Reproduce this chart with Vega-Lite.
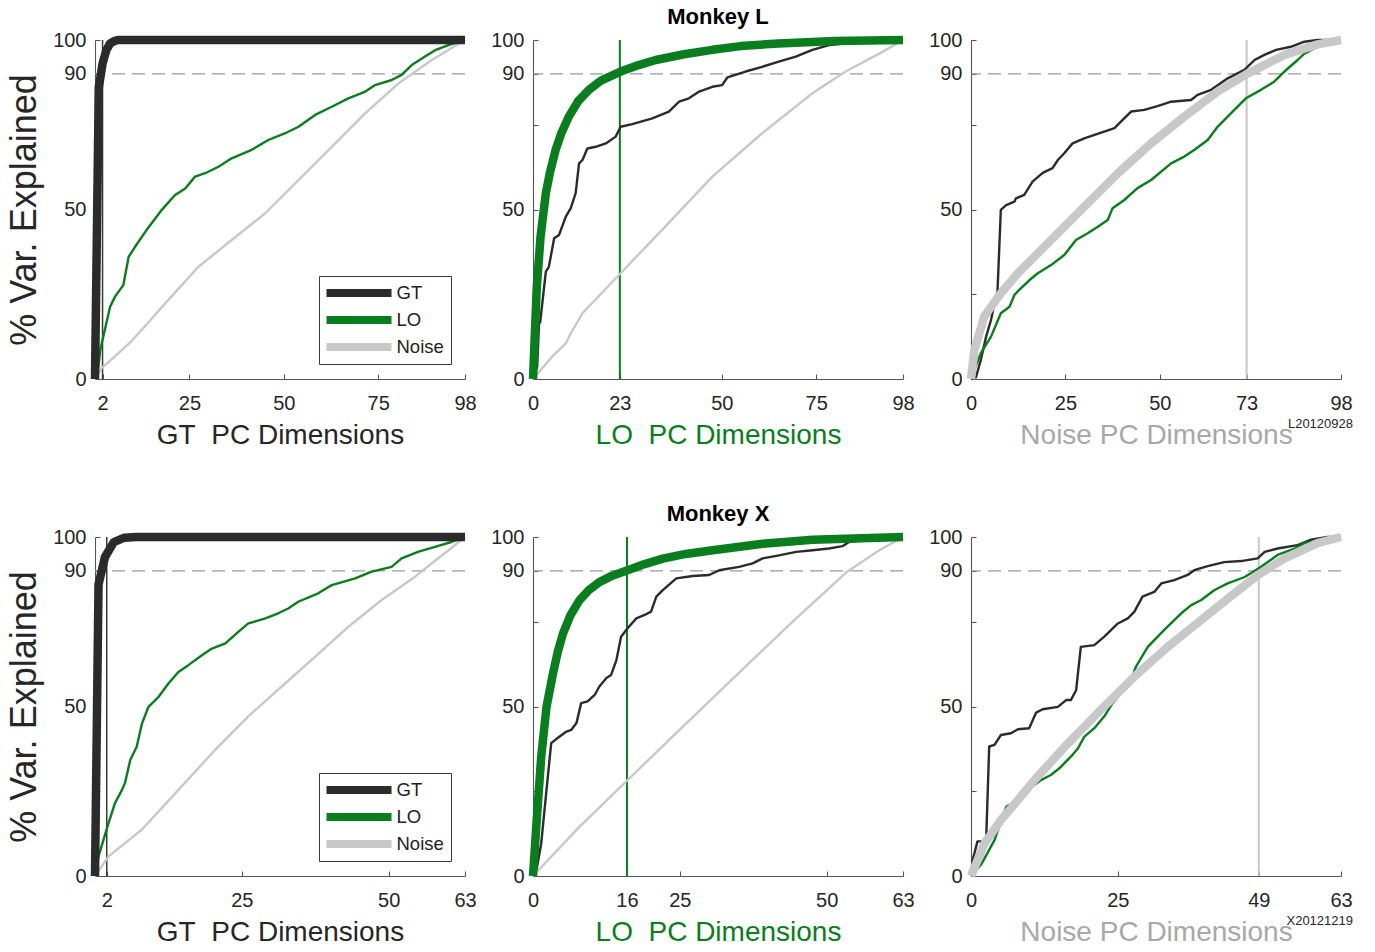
{
"$schema": "https://vega.github.io/schema/vega-lite/v6.json",
"background": "white",
"padding": {"left": 6, "top": 6, "right": 10, "bottom": 5},
"config": {
  "font": "Liberation Sans",
  "view": {"stroke": null},
  "axis": {"grid": false, "domainColor": "#555555", "domainWidth": 1.1, "tickColor": "#555555", "tickWidth": 1.1, "tickSize": -5, "labelColor": "#262626", "labelFontSize": 20, "labelFont": "Liberation Sans", "titleFont": "Liberation Sans", "titleFontWeight": "normal", "labelFlush": false, "labelOverlap": false},
  "axisX": {"labelPadding": 19, "titleFontSize": 28, "titlePadding": 8},
  "axisY": {"labelPadding": 14, "titleFontSize": 36, "titlePadding": 9, "titleColor": "#262626"},
  "line": {"strokeJoin": "round", "strokeCap": "butt"},
  "title": {"font": "Liberation Sans", "fontSize": 22, "fontWeight": "bold", "color": "#000000", "offset": 1}
},
"datasets": {
  "LGT": [
    {"s":"GT","x":0,"y":0},{"s":"GT","x":1,"y":86},{"s":"GT","x":2,"y":93},{"s":"GT","x":3,"y":97},{"s":"GT","x":4,"y":99},{"s":"GT","x":5,"y":99.6},{"s":"GT","x":6,"y":100},{"s":"GT","x":98,"y":100},
    {"s":"LO","x":0,"y":0},{"s":"LO","x":0.9,"y":3.6},{"s":"LO","x":1.4,"y":8.6},{"s":"LO","x":4,"y":21.3},{"s":"LO","x":5.3,"y":24.3},{"s":"LO","x":7.5,"y":27.7},{"s":"LO","x":8.9,"y":36},{"s":"LO","x":10.6,"y":39},{"s":"LO","x":13.7,"y":44},{"s":"LO","x":17.7,"y":49.9},{"s":"LO","x":21.2,"y":54.3},{"s":"LO","x":23.9,"y":56.2},{"s":"LO","x":26.5,"y":59.7},{"s":"LO","x":29.2,"y":60.7},{"s":"LO","x":32.7,"y":62.6},{"s":"LO","x":36.2,"y":65.1},{"s":"LO","x":41.5,"y":67.6},{"s":"LO","x":45.9,"y":70.5},{"s":"LO","x":50.4,"y":72.5},{"s":"LO","x":53.9,"y":74.4},{"s":"LO","x":58.3,"y":77.9},{"s":"LO","x":62.7,"y":80.3},{"s":"LO","x":67.1,"y":82.8},{"s":"LO","x":71.6,"y":84.8},{"s":"LO","x":74.2,"y":86.7},{"s":"LO","x":78.6,"y":88.2},{"s":"LO","x":81.2,"y":89.7},{"s":"LO","x":83.9,"y":92.6},{"s":"LO","x":87.4,"y":95.1},{"s":"LO","x":90.1,"y":97},{"s":"LO","x":93.6,"y":98.5},{"s":"LO","x":98,"y":100},
    {"s":"Noise","x":0,"y":0},{"s":"Noise","x":1.8,"y":3.3},{"s":"Noise","x":5,"y":6.4},{"s":"Noise","x":9.7,"y":11.2},{"s":"Noise","x":14,"y":16.5},{"s":"Noise","x":18.6,"y":22.3},{"s":"Noise","x":27.4,"y":33.1},{"s":"Noise","x":36.2,"y":41},{"s":"Noise","x":45.1,"y":48.9},{"s":"Noise","x":53.9,"y":58.7},{"s":"Noise","x":62.7,"y":68.5},{"s":"Noise","x":71.6,"y":78.4},{"s":"Noise","x":80.4,"y":87.2},{"s":"Noise","x":89.2,"y":94.1},{"s":"Noise","x":98,"y":100}
  ],
  "LLO": [
    {"s":"LO","x":0,"y":0},{"s":"LO","x":1,"y":27},{"s":"LO","x":2,"y":42},{"s":"LO","x":3.4,"y":54.8},{"s":"LO","x":4.5,"y":61},{"s":"LO","x":6,"y":67.6},{"s":"LO","x":7.5,"y":72.5},{"s":"LO","x":9.5,"y":77.4},{"s":"LO","x":12,"y":82},{"s":"LO","x":14.8,"y":85.3},{"s":"LO","x":18,"y":88},{"s":"LO","x":23.2,"y":90.7},{"s":"LO","x":28,"y":92.6},{"s":"LO","x":32.5,"y":94.1},{"s":"LO","x":40,"y":95.8},{"s":"LO","x":47.5,"y":97.1},{"s":"LO","x":55,"y":98.2},{"s":"LO","x":65,"y":99},{"s":"LO","x":80,"y":99.7},{"s":"LO","x":98,"y":100},
    {"s":"GT","x":0,"y":0},{"s":"GT","x":1.1,"y":3.6},{"s":"GT","x":1.6,"y":16.4},{"s":"GT","x":1.9,"y":16.7},{"s":"GT","x":3.4,"y":31.7},{"s":"GT","x":4.2,"y":33.1},{"s":"GT","x":5.6,"y":41.5},{"s":"GT","x":6.9,"y":42.5},{"s":"GT","x":8.7,"y":47.9},{"s":"GT","x":10,"y":50.4},{"s":"GT","x":11.3,"y":54.8},{"s":"GT","x":12.2,"y":63.6},{"s":"GT","x":13.1,"y":64.6},{"s":"GT","x":14.4,"y":68},{"s":"GT","x":16.6,"y":68.5},{"s":"GT","x":19.3,"y":69.5},{"s":"GT","x":21.9,"y":71.5},{"s":"GT","x":23.2,"y":74.4},{"s":"GT","x":26.3,"y":75.2},{"s":"GT","x":31.6,"y":76.9},{"s":"GT","x":36,"y":78.9},{"s":"GT","x":38.7,"y":81.8},{"s":"GT","x":41.3,"y":82.8},{"s":"GT","x":44,"y":84.8},{"s":"GT","x":47.5,"y":86.2},{"s":"GT","x":50.1,"y":86.7},{"s":"GT","x":51.5,"y":89},{"s":"GT","x":56.3,"y":90.7},{"s":"GT","x":60.7,"y":92.1},{"s":"GT","x":65.1,"y":93.6},{"s":"GT","x":69.6,"y":95.1},{"s":"GT","x":74,"y":97.1},{"s":"GT","x":78.4,"y":98.5},{"s":"GT","x":87.2,"y":99.5},{"s":"GT","x":98,"y":100},
    {"s":"Noise","x":0,"y":0},{"s":"Noise","x":5,"y":6.5},{"s":"Noise","x":8.7,"y":10.5},{"s":"Noise","x":10,"y":13.5},{"s":"Noise","x":13.1,"y":19.4},{"s":"Noise","x":23.2,"y":31.2},{"s":"Noise","x":34.2,"y":44},{"s":"Noise","x":47.5,"y":59.7},{"s":"Noise","x":60.7,"y":72.5},{"s":"Noise","x":74,"y":84.3},{"s":"Noise","x":82.8,"y":90.7},{"s":"Noise","x":91.6,"y":95.9},{"s":"Noise","x":98,"y":100}
  ],
  "LNO": [
    {"s":"Noise","x":0,"y":0},{"s":"Noise","x":0.9,"y":8.6},{"s":"Noise","x":3.5,"y":18.4},{"s":"Noise","x":7.9,"y":25.3},{"s":"Noise","x":12.4,"y":31.2},{"s":"Noise","x":21.2,"y":41},{"s":"Noise","x":30,"y":50.8},{"s":"Noise","x":38.9,"y":60.7},{"s":"Noise","x":47.7,"y":69.5},{"s":"Noise","x":56.5,"y":77.4},{"s":"Noise","x":65.3,"y":84.8},{"s":"Noise","x":73.1,"y":90},{"s":"Noise","x":83,"y":95.6},{"s":"Noise","x":91.8,"y":98.7},{"s":"Noise","x":98,"y":100},
    {"s":"GT","x":0,"y":0},{"s":"GT","x":1.3,"y":0.5},{"s":"GT","x":2.6,"y":5.6},{"s":"GT","x":4,"y":12.5},{"s":"GT","x":5.3,"y":17.4},{"s":"GT","x":6.6,"y":24.3},{"s":"GT","x":7,"y":25.3},{"s":"GT","x":7.9,"y":49.9},{"s":"GT","x":9.3,"y":51.3},{"s":"GT","x":11.5,"y":52.3},{"s":"GT","x":11.9,"y":53.3},{"s":"GT","x":14.1,"y":54.3},{"s":"GT","x":16.3,"y":58.2},{"s":"GT","x":19,"y":60.8},{"s":"GT","x":21.6,"y":62.2},{"s":"GT","x":23,"y":64.6},{"s":"GT","x":24.7,"y":66.6},{"s":"GT","x":26.9,"y":69.5},{"s":"GT","x":30,"y":71},{"s":"GT","x":32.7,"y":72},{"s":"GT","x":35.3,"y":73},{"s":"GT","x":38,"y":74},{"s":"GT","x":39.7,"y":75.9},{"s":"GT","x":42.4,"y":78.9},{"s":"GT","x":45.9,"y":79.4},{"s":"GT","x":49.4,"y":80.5},{"s":"GT","x":53,"y":81.8},{"s":"GT","x":58.3,"y":82.3},{"s":"GT","x":60,"y":83.8},{"s":"GT","x":63.6,"y":85.3},{"s":"GT","x":68,"y":88.7},{"s":"GT","x":72.4,"y":91.2},{"s":"GT","x":75.1,"y":94.1},{"s":"GT","x":77.7,"y":95.6},{"s":"GT","x":80.8,"y":97.1},{"s":"GT","x":84.7,"y":98},{"s":"GT","x":88.3,"y":99.5},{"s":"GT","x":91.8,"y":100},{"s":"GT","x":98,"y":100},
    {"s":"LO","x":0,"y":0},{"s":"LO","x":1,"y":3},{"s":"LO","x":2.6,"y":7.6},{"s":"LO","x":5.3,"y":12.5},{"s":"LO","x":7.9,"y":19.4},{"s":"LO","x":10.2,"y":21.3},{"s":"LO","x":11.5,"y":24.8},{"s":"LO","x":12.7,"y":26.2},{"s":"LO","x":15.5,"y":29.2},{"s":"LO","x":17.7,"y":31.2},{"s":"LO","x":21.2,"y":33.6},{"s":"LO","x":24.7,"y":36.6},{"s":"LO","x":27.8,"y":41},{"s":"LO","x":30.9,"y":43},{"s":"LO","x":33.6,"y":44.9},{"s":"LO","x":36.2,"y":46.9},{"s":"LO","x":37.5,"y":50.4},{"s":"LO","x":40.6,"y":52.8},{"s":"LO","x":44.1,"y":56.3},{"s":"LO","x":47.7,"y":58.7},{"s":"LO","x":53,"y":63.6},{"s":"LO","x":56.5,"y":65.6},{"s":"LO","x":59.2,"y":67.6},{"s":"LO","x":62.7,"y":70.5},{"s":"LO","x":65.3,"y":74.4},{"s":"LO","x":68.9,"y":78.4},{"s":"LO","x":72.8,"y":82.8},{"s":"LO","x":76.8,"y":85.3},{"s":"LO","x":80.3,"y":87.7},{"s":"LO","x":83,"y":90.7},{"s":"LO","x":86.5,"y":94.1},{"s":"LO","x":88.3,"y":96},{"s":"LO","x":91.8,"y":98},{"s":"LO","x":98,"y":100}
  ],
  "XGT": [
    {"s":"GT","x":0,"y":0},{"s":"GT","x":0.6,"y":86},{"s":"GT","x":1.7,"y":94.1},{"s":"GT","x":3.2,"y":98.5},{"s":"GT","x":5,"y":99.8},{"s":"GT","x":7,"y":100},{"s":"GT","x":63,"y":100},
    {"s":"LO","x":0,"y":0},{"s":"LO","x":0.6,"y":5.8},{"s":"LO","x":2.3,"y":15.6},{"s":"LO","x":3.4,"y":21.5},{"s":"LO","x":4.6,"y":25.4},{"s":"LO","x":5.1,"y":27.4},{"s":"LO","x":6,"y":34.2},{"s":"LO","x":7.1,"y":38.1},{"s":"LO","x":8,"y":45},{"s":"LO","x":9.1,"y":49.9},{"s":"LO","x":10.8,"y":52.8},{"s":"LO","x":12.5,"y":56.8},{"s":"LO","x":14.2,"y":60.2},{"s":"LO","x":15.9,"y":62.2},{"s":"LO","x":18.2,"y":65.1},{"s":"LO","x":19.9,"y":67.1},{"s":"LO","x":22.2,"y":68.6},{"s":"LO","x":24.4,"y":72},{"s":"LO","x":26.1,"y":74.5},{"s":"LO","x":29,"y":76},{"s":"LO","x":31.2,"y":77.5},{"s":"LO","x":32.9,"y":78.9},{"s":"LO","x":34.6,"y":80.9},{"s":"LO","x":38,"y":83.4},{"s":"LO","x":40.3,"y":85.8},{"s":"LO","x":44.3,"y":87.8},{"s":"LO","x":47.1,"y":89.8},{"s":"LO","x":50.5,"y":91.2},{"s":"LO","x":52.2,"y":93.7},{"s":"LO","x":55.1,"y":95.7},{"s":"LO","x":57.9,"y":97.1},{"s":"LO","x":60.8,"y":98.6},{"s":"LO","x":63,"y":100},
    {"s":"Noise","x":0,"y":0},{"s":"Noise","x":2.3,"y":5.8},{"s":"Noise","x":8,"y":13.7},{"s":"Noise","x":14.8,"y":26.5},{"s":"Noise","x":20.5,"y":37.3},{"s":"Noise","x":26.1,"y":47.1},{"s":"Noise","x":31.8,"y":55.9},{"s":"Noise","x":37.5,"y":64.7},{"s":"Noise","x":43.2,"y":73.6},{"s":"Noise","x":48.8,"y":81.4},{"s":"Noise","x":54.5,"y":88.3},{"s":"Noise","x":57.3,"y":92.2},{"s":"Noise","x":60.2,"y":96.1},{"s":"Noise","x":63,"y":100}
  ],
  "XLO": [
    {"s":"LO","x":0,"y":0},{"s":"LO","x":0.6,"y":15.6},{"s":"LO","x":1.4,"y":35.2},{"s":"LO","x":2.3,"y":49.9},{"s":"LO","x":3.4,"y":59.7},{"s":"LO","x":4.2,"y":66},{"s":"LO","x":5.1,"y":71.5},{"s":"LO","x":6.4,"y":77},{"s":"LO","x":7.9,"y":81.3},{"s":"LO","x":9.5,"y":84.3},{"s":"LO","x":11.3,"y":86.7},{"s":"LO","x":13.5,"y":88.6},{"s":"LO","x":16.1,"y":90.2},{"s":"LO","x":19,"y":92},{"s":"LO","x":22.1,"y":93.6},{"s":"LO","x":26,"y":95},{"s":"LO","x":30.6,"y":96.1},{"s":"LO","x":39.1,"y":98},{"s":"LO","x":47.6,"y":99.2},{"s":"LO","x":63,"y":100},
    {"s":"GT","x":0,"y":0},{"s":"GT","x":0.6,"y":1.8},{"s":"GT","x":1.4,"y":9.6},{"s":"GT","x":2.3,"y":25.4},{"s":"GT","x":3.1,"y":39.2},{"s":"GT","x":4.2,"y":40.7},{"s":"GT","x":5.7,"y":42.6},{"s":"GT","x":6.5,"y":43.1},{"s":"GT","x":7.4,"y":45.1},{"s":"GT","x":8.2,"y":51},{"s":"GT","x":9.3,"y":51.5},{"s":"GT","x":10.5,"y":53.4},{"s":"GT","x":11.3,"y":55.9},{"s":"GT","x":12.5,"y":58.4},{"s":"GT","x":13.3,"y":59.3},{"s":"GT","x":14.2,"y":63.7},{"s":"GT","x":15,"y":70.6},{"s":"GT","x":16.1,"y":73.1},{"s":"GT","x":17.6,"y":76},{"s":"GT","x":19,"y":77},{"s":"GT","x":20.1,"y":78},{"s":"GT","x":21,"y":82.4},{"s":"GT","x":22.1,"y":84.3},{"s":"GT","x":24.4,"y":87.8},{"s":"GT","x":27.2,"y":88.5},{"s":"GT","x":30,"y":88.8},{"s":"GT","x":31.7,"y":90.2},{"s":"GT","x":35.1,"y":91.2},{"s":"GT","x":37.4,"y":92.2},{"s":"GT","x":39.1,"y":93.7},{"s":"GT","x":41.9,"y":94.6},{"s":"GT","x":44.8,"y":95.6},{"s":"GT","x":47.6,"y":96.1},{"s":"GT","x":50.4,"y":96.6},{"s":"GT","x":52.7,"y":97.3},{"s":"GT","x":53.8,"y":98.5},{"s":"GT","x":57.8,"y":99.5},{"s":"GT","x":63,"y":100},
    {"s":"Noise","x":0,"y":0},{"s":"Noise","x":7.9,"y":14.5},{"s":"Noise","x":16.1,"y":28.3},{"s":"Noise","x":24.9,"y":43},{"s":"Noise","x":36.3,"y":62},{"s":"Noise","x":44.8,"y":76},{"s":"Noise","x":53.3,"y":89.5},{"s":"Noise","x":58.9,"y":96},{"s":"Noise","x":63,"y":100}
  ],
  "XNO": [
    {"s":"Noise","x":0,"y":0},{"s":"Noise","x":2.3,"y":9.6},{"s":"Noise","x":5.1,"y":16.5},{"s":"Noise","x":8,"y":22.4},{"s":"Noise","x":10.8,"y":28.3},{"s":"Noise","x":16.5,"y":39.1},{"s":"Noise","x":22.1,"y":49},{"s":"Noise","x":27.8,"y":58.8},{"s":"Noise","x":33.5,"y":67.6},{"s":"Noise","x":39.2,"y":75.5},{"s":"Noise","x":44.8,"y":83.3},{"s":"Noise","x":49,"y":89},{"s":"Noise","x":53.4,"y":93.7},{"s":"Noise","x":59,"y":98.2},{"s":"Noise","x":63,"y":100},
    {"s":"GT","x":0,"y":0},{"s":"GT","x":0.3,"y":4.8},{"s":"GT","x":1.1,"y":10.2},{"s":"GT","x":2,"y":10.2},{"s":"GT","x":2.6,"y":11.7},{"s":"GT","x":3.1,"y":38.2},{"s":"GT","x":4,"y":38.7},{"s":"GT","x":5.1,"y":41.6},{"s":"GT","x":6.8,"y":42.1},{"s":"GT","x":8,"y":43.3},{"s":"GT","x":9.9,"y":43.6},{"s":"GT","x":11.1,"y":48.2},{"s":"GT","x":12.2,"y":49.2},{"s":"GT","x":14.8,"y":49.9},{"s":"GT","x":16.2,"y":51.9},{"s":"GT","x":17,"y":51.9},{"s":"GT","x":17.9,"y":54.8},{"s":"GT","x":18.7,"y":67.6},{"s":"GT","x":21,"y":68.1},{"s":"GT","x":22.7,"y":70.6},{"s":"GT","x":25,"y":74.5},{"s":"GT","x":26.7,"y":76},{"s":"GT","x":27.8,"y":77.9},{"s":"GT","x":29.2,"y":82.4},{"s":"GT","x":31.2,"y":83.8},{"s":"GT","x":32.4,"y":86.3},{"s":"GT","x":34.6,"y":87.3},{"s":"GT","x":36.9,"y":88.8},{"s":"GT","x":38,"y":90.2},{"s":"GT","x":40.3,"y":91.4},{"s":"GT","x":43.1,"y":92.6},{"s":"GT","x":46,"y":92.9},{"s":"GT","x":48.8,"y":93.7},{"s":"GT","x":50,"y":95.6},{"s":"GT","x":52.2,"y":96.6},{"s":"GT","x":55.6,"y":97.6},{"s":"GT","x":57.9,"y":99.2},{"s":"GT","x":60.7,"y":100},{"s":"GT","x":63,"y":100},
    {"s":"LO","x":0,"y":0},{"s":"LO","x":1.7,"y":3.3},{"s":"LO","x":4,"y":10.6},{"s":"LO","x":6,"y":20.4},{"s":"LO","x":7.4,"y":21.8},{"s":"LO","x":9.7,"y":25.4},{"s":"LO","x":11.9,"y":28.3},{"s":"LO","x":13.6,"y":29.8},{"s":"LO","x":15,"y":31.7},{"s":"LO","x":17,"y":35.2},{"s":"LO","x":18.2,"y":37.6},{"s":"LO","x":19.3,"y":41.1},{"s":"LO","x":21,"y":43.6},{"s":"LO","x":22.7,"y":47.1},{"s":"LO","x":24.1,"y":51},{"s":"LO","x":25.5,"y":53.9},{"s":"LO","x":27,"y":56.9},{"s":"LO","x":28.1,"y":61.8},{"s":"LO","x":30.1,"y":67.6},{"s":"LO","x":32.9,"y":72.6},{"s":"LO","x":35.8,"y":77.5},{"s":"LO","x":37.5,"y":79.9},{"s":"LO","x":39.2,"y":81.4},{"s":"LO","x":41.4,"y":84.3},{"s":"LO","x":43.7,"y":86.3},{"s":"LO","x":46.6,"y":88.2},{"s":"LO","x":49.4,"y":91.2},{"s":"LO","x":52.2,"y":94.7},{"s":"LO","x":55.1,"y":96.6},{"s":"LO","x":56.8,"y":98.2},{"s":"LO","x":60.7,"y":99.5},{"s":"LO","x":63,"y":100}
  ]
},
"columns": 3,
"spacing": {"row": 158, "column": 68},
"bounds": "flush",
"resolve": {"scale": {"color": "independent", "x": "independent", "y": "independent"}, "legend": {"color": "independent"}},
"concat": [
  {"width": 370, "height": 339,
   "layer": [
    {"data": {"values": [{}]}, "mark": {"type": "rule", "color": "#9a9a9a", "strokeWidth": 1.3, "strokeDash": [13, 7]}, "encoding": {"y": {"datum": 90, "type": "quantitative"}}},
    {"data": {"values": [{}]}, "mark": {"type": "rule", "color": "#3a3a3a", "strokeWidth": 1.5}, "encoding": {"x": {"datum": 2, "type": "quantitative"}}},
    {"data": {"name": "LGT"}, "transform": [{"filter": "datum.s != 'GT'"}], "mark": {"type": "line", "strokeWidth": 2.4},
     "encoding": {
      "x": {"field": "x", "type": "quantitative", "scale": {"domain": [0, 98], "nice": false, "zero": false}, "axis": {"values": [2, 25, 50, 75, 98], "title": "GT\u00a0 PC Dimensions", "titleColor": "#262626"}},
      "y": {"field": "y", "type": "quantitative", "scale": {"domain": [0, 100], "nice": false}, "axis": {"values": [0, 25, 50, 75, 90, 100], "labelExpr": "datum.value==25||datum.value==75?'':datum.label", "title": "% Var. Explained"}},
      "color": {"field": "s", "type": "nominal", "scale": {"domain": ["GT", "LO", "Noise"], "range": ["#2b2b2b", "#0a7d1e", "#c8c8c8"]},
        "legend": {"orient": "none", "legendX": 224, "legendY": 236, "title": null, "symbolType": "stroke", "symbolSize": 4225, "symbolStrokeWidth": 8, "clipHeight": 20, "rowPadding": 7, "labelFontSize": 18.5, "labelOffset": 1, "symbolOffset": -3.5, "padding": 7, "strokeColor": "#3a3a3a", "fillColor": "white", "labelColor": "#222222", "labelFont": "Liberation Sans", "encode": {"symbols": {"update": {"strokeWidth": {"value": 8}}}}}}
     }},
    {"data": {"name": "LGT"}, "transform": [{"filter": "datum.s == 'GT'"}], "mark": {"type": "line", "strokeWidth": 8.5},
     "encoding": {
      "x": {"field": "x", "type": "quantitative", "scale": {"domain": [0, 98], "nice": false, "zero": false}, "axis": {"values": [2, 25, 50, 75, 98], "title": "GT\u00a0 PC Dimensions", "titleColor": "#262626"}},
      "y": {"field": "y", "type": "quantitative", "scale": {"domain": [0, 100], "nice": false}, "axis": {"values": [0, 25, 50, 75, 90, 100], "labelExpr": "datum.value==25||datum.value==75?'':datum.label", "title": "% Var. Explained"}},
      "color": {"field": "s", "type": "nominal", "scale": {"domain": ["GT", "LO", "Noise"], "range": ["#2b2b2b", "#0a7d1e", "#c8c8c8"]},
        "legend": {"orient": "none", "legendX": 224, "legendY": 236, "title": null, "symbolType": "stroke", "symbolSize": 4225, "symbolStrokeWidth": 8, "clipHeight": 20, "rowPadding": 7, "labelFontSize": 18.5, "labelOffset": 1, "symbolOffset": -3.5, "padding": 7, "strokeColor": "#3a3a3a", "fillColor": "white", "labelColor": "#222222", "labelFont": "Liberation Sans", "encode": {"symbols": {"update": {"strokeWidth": {"value": 8}}}}}}
     }}
   ]},
  {"width": 370, "height": 339,
   "title": {"text": "Monkey L"},
   "layer": [
    {"data": {"values": [{}]}, "mark": {"type": "rule", "color": "#9a9a9a", "strokeWidth": 1.3, "strokeDash": [13, 7]}, "encoding": {"y": {"datum": 90, "type": "quantitative"}}},
    {"data": {"values": [{}]}, "mark": {"type": "rule", "color": "#0a7d1e", "strokeWidth": 2}, "encoding": {"x": {"datum": 23, "type": "quantitative"}}},
    {"data": {"name": "LLO"}, "transform": [{"filter": "datum.s != 'LO'"}], "mark": {"type": "line", "strokeWidth": 2.4},
     "encoding": {
      "x": {"field": "x", "type": "quantitative", "scale": {"domain": [0, 98], "nice": false, "zero": false}, "axis": {"values": [0, 23, 50, 75, 98], "title": "LO\u00a0 PC Dimensions", "titleColor": "#0a7d1e"}},
      "y": {"field": "y", "type": "quantitative", "scale": {"domain": [0, 100], "nice": false}, "axis": {"values": [0, 25, 50, 75, 90, 100], "labelExpr": "datum.value==25||datum.value==75?'':datum.label", "title": null}},
      "color": {"field": "s", "type": "nominal", "scale": {"domain": ["GT", "LO", "Noise"], "range": ["#2b2b2b", "#0a7d1e", "#c8c8c8"]}, "legend": null}
     }},
    {"data": {"name": "LLO"}, "transform": [{"filter": "datum.s == 'LO'"}], "mark": {"type": "line", "strokeWidth": 8.5},
     "encoding": {
      "x": {"field": "x", "type": "quantitative", "scale": {"domain": [0, 98], "nice": false, "zero": false}, "axis": {"values": [0, 23, 50, 75, 98], "title": "LO\u00a0 PC Dimensions", "titleColor": "#0a7d1e"}},
      "y": {"field": "y", "type": "quantitative", "scale": {"domain": [0, 100], "nice": false}, "axis": {"values": [0, 25, 50, 75, 90, 100], "labelExpr": "datum.value==25||datum.value==75?'':datum.label", "title": null}},
      "color": {"field": "s", "type": "nominal", "scale": {"domain": ["GT", "LO", "Noise"], "range": ["#2b2b2b", "#0a7d1e", "#c8c8c8"]}, "legend": null}
     }}
   ]},
  {"width": 370, "height": 339,
   "layer": [
    {"data": {"values": [{}]}, "mark": {"type": "rule", "color": "#9a9a9a", "strokeWidth": 1.3, "strokeDash": [13, 7]}, "encoding": {"y": {"datum": 90, "type": "quantitative"}}},
    {"data": {"values": [{}]}, "mark": {"type": "rule", "color": "#c8c8c8", "strokeWidth": 2}, "encoding": {"x": {"datum": 73, "type": "quantitative"}}},
    {"data": {"name": "LNO"}, "transform": [{"filter": "datum.s != 'Noise'"}], "mark": {"type": "line", "strokeWidth": 2.4},
     "encoding": {
      "x": {"field": "x", "type": "quantitative", "scale": {"domain": [0, 98], "nice": false, "zero": false}, "axis": {"values": [0, 25, 50, 73, 98], "title": "Noise PC Dimensions", "titleColor": "#a8a8a8"}},
      "y": {"field": "y", "type": "quantitative", "scale": {"domain": [0, 100], "nice": false}, "axis": {"values": [0, 25, 50, 75, 90, 100], "labelExpr": "datum.value==25||datum.value==75?'':datum.label", "title": null}},
      "color": {"field": "s", "type": "nominal", "scale": {"domain": ["GT", "LO", "Noise"], "range": ["#2b2b2b", "#0a7d1e", "#c8c8c8"]}, "legend": null}
     }},
    {"data": {"name": "LNO"}, "transform": [{"filter": "datum.s == 'Noise'"}], "mark": {"type": "line", "strokeWidth": 8.5},
     "encoding": {
      "x": {"field": "x", "type": "quantitative", "scale": {"domain": [0, 98], "nice": false, "zero": false}, "axis": {"values": [0, 25, 50, 73, 98], "title": "Noise PC Dimensions", "titleColor": "#a8a8a8"}},
      "y": {"field": "y", "type": "quantitative", "scale": {"domain": [0, 100], "nice": false}, "axis": {"values": [0, 25, 50, 75, 90, 100], "labelExpr": "datum.value==25||datum.value==75?'':datum.label", "title": null}},
      "color": {"field": "s", "type": "nominal", "scale": {"domain": ["GT", "LO", "Noise"], "range": ["#2b2b2b", "#0a7d1e", "#c8c8c8"]}, "legend": null}
     }},
    {"data": {"values": [{"t": "L20120928"}]}, "mark": {"type": "text", "align": "right", "baseline": "alphabetic", "dx": 12, "dy": 49, "fontSize": 13, "color": "#262626", "font": "Liberation Sans"},
     "encoding": {"x": {"datum": 98, "type": "quantitative"}, "y": {"datum": 0, "type": "quantitative"}, "text": {"field": "t"}}}
   ]},
  {"width": 370, "height": 339,
   "layer": [
    {"data": {"values": [{}]}, "mark": {"type": "rule", "color": "#9a9a9a", "strokeWidth": 1.3, "strokeDash": [13, 7]}, "encoding": {"y": {"datum": 90, "type": "quantitative"}}},
    {"data": {"values": [{}]}, "mark": {"type": "rule", "color": "#3a3a3a", "strokeWidth": 1.5}, "encoding": {"x": {"datum": 2, "type": "quantitative"}}},
    {"data": {"name": "XGT"}, "transform": [{"filter": "datum.s != 'GT'"}], "mark": {"type": "line", "strokeWidth": 2.4},
     "encoding": {
      "x": {"field": "x", "type": "quantitative", "scale": {"domain": [0, 63], "nice": false, "zero": false}, "axis": {"values": [2, 25, 50, 63], "title": "GT\u00a0 PC Dimensions", "titleColor": "#262626"}},
      "y": {"field": "y", "type": "quantitative", "scale": {"domain": [0, 100], "nice": false}, "axis": {"values": [0, 25, 50, 75, 90, 100], "labelExpr": "datum.value==25||datum.value==75?'':datum.label", "title": "% Var. Explained"}},
      "color": {"field": "s", "type": "nominal", "scale": {"domain": ["GT", "LO", "Noise"], "range": ["#2b2b2b", "#0a7d1e", "#c8c8c8"]},
        "legend": {"orient": "none", "legendX": 224, "legendY": 236, "title": null, "symbolType": "stroke", "symbolSize": 4225, "symbolStrokeWidth": 8, "clipHeight": 20, "rowPadding": 7, "labelFontSize": 18.5, "labelOffset": 1, "symbolOffset": -3.5, "padding": 7, "strokeColor": "#3a3a3a", "fillColor": "white", "labelColor": "#222222", "labelFont": "Liberation Sans", "encode": {"symbols": {"update": {"strokeWidth": {"value": 8}}}}}}
     }},
    {"data": {"name": "XGT"}, "transform": [{"filter": "datum.s == 'GT'"}], "mark": {"type": "line", "strokeWidth": 8.5},
     "encoding": {
      "x": {"field": "x", "type": "quantitative", "scale": {"domain": [0, 63], "nice": false, "zero": false}, "axis": {"values": [2, 25, 50, 63], "title": "GT\u00a0 PC Dimensions", "titleColor": "#262626"}},
      "y": {"field": "y", "type": "quantitative", "scale": {"domain": [0, 100], "nice": false}, "axis": {"values": [0, 25, 50, 75, 90, 100], "labelExpr": "datum.value==25||datum.value==75?'':datum.label", "title": "% Var. Explained"}},
      "color": {"field": "s", "type": "nominal", "scale": {"domain": ["GT", "LO", "Noise"], "range": ["#2b2b2b", "#0a7d1e", "#c8c8c8"]},
        "legend": {"orient": "none", "legendX": 224, "legendY": 236, "title": null, "symbolType": "stroke", "symbolSize": 4225, "symbolStrokeWidth": 8, "clipHeight": 20, "rowPadding": 7, "labelFontSize": 18.5, "labelOffset": 1, "symbolOffset": -3.5, "padding": 7, "strokeColor": "#3a3a3a", "fillColor": "white", "labelColor": "#222222", "labelFont": "Liberation Sans", "encode": {"symbols": {"update": {"strokeWidth": {"value": 8}}}}}}
     }}
   ]},
  {"width": 370, "height": 339,
   "title": {"text": "Monkey X"},
   "layer": [
    {"data": {"values": [{}]}, "mark": {"type": "rule", "color": "#9a9a9a", "strokeWidth": 1.3, "strokeDash": [13, 7]}, "encoding": {"y": {"datum": 90, "type": "quantitative"}}},
    {"data": {"values": [{}]}, "mark": {"type": "rule", "color": "#0a7d1e", "strokeWidth": 2}, "encoding": {"x": {"datum": 16, "type": "quantitative"}}},
    {"data": {"name": "XLO"}, "transform": [{"filter": "datum.s != 'LO'"}], "mark": {"type": "line", "strokeWidth": 2.4},
     "encoding": {
      "x": {"field": "x", "type": "quantitative", "scale": {"domain": [0, 63], "nice": false, "zero": false}, "axis": {"values": [0, 16, 25, 50, 63], "title": "LO\u00a0 PC Dimensions", "titleColor": "#0a7d1e"}},
      "y": {"field": "y", "type": "quantitative", "scale": {"domain": [0, 100], "nice": false}, "axis": {"values": [0, 25, 50, 75, 90, 100], "labelExpr": "datum.value==25||datum.value==75?'':datum.label", "title": null}},
      "color": {"field": "s", "type": "nominal", "scale": {"domain": ["GT", "LO", "Noise"], "range": ["#2b2b2b", "#0a7d1e", "#c8c8c8"]}, "legend": null}
     }},
    {"data": {"name": "XLO"}, "transform": [{"filter": "datum.s == 'LO'"}], "mark": {"type": "line", "strokeWidth": 8.5},
     "encoding": {
      "x": {"field": "x", "type": "quantitative", "scale": {"domain": [0, 63], "nice": false, "zero": false}, "axis": {"values": [0, 16, 25, 50, 63], "title": "LO\u00a0 PC Dimensions", "titleColor": "#0a7d1e"}},
      "y": {"field": "y", "type": "quantitative", "scale": {"domain": [0, 100], "nice": false}, "axis": {"values": [0, 25, 50, 75, 90, 100], "labelExpr": "datum.value==25||datum.value==75?'':datum.label", "title": null}},
      "color": {"field": "s", "type": "nominal", "scale": {"domain": ["GT", "LO", "Noise"], "range": ["#2b2b2b", "#0a7d1e", "#c8c8c8"]}, "legend": null}
     }}
   ]},
  {"width": 370, "height": 339,
   "layer": [
    {"data": {"values": [{}]}, "mark": {"type": "rule", "color": "#9a9a9a", "strokeWidth": 1.3, "strokeDash": [13, 7]}, "encoding": {"y": {"datum": 90, "type": "quantitative"}}},
    {"data": {"values": [{}]}, "mark": {"type": "rule", "color": "#c8c8c8", "strokeWidth": 2}, "encoding": {"x": {"datum": 49, "type": "quantitative"}}},
    {"data": {"name": "XNO"}, "transform": [{"filter": "datum.s != 'Noise'"}], "mark": {"type": "line", "strokeWidth": 2.4},
     "encoding": {
      "x": {"field": "x", "type": "quantitative", "scale": {"domain": [0, 63], "nice": false, "zero": false}, "axis": {"values": [0, 25, 49, 63], "title": "Noise PC Dimensions", "titleColor": "#a8a8a8"}},
      "y": {"field": "y", "type": "quantitative", "scale": {"domain": [0, 100], "nice": false}, "axis": {"values": [0, 25, 50, 75, 90, 100], "labelExpr": "datum.value==25||datum.value==75?'':datum.label", "title": null}},
      "color": {"field": "s", "type": "nominal", "scale": {"domain": ["GT", "LO", "Noise"], "range": ["#2b2b2b", "#0a7d1e", "#c8c8c8"]}, "legend": null}
     }},
    {"data": {"name": "XNO"}, "transform": [{"filter": "datum.s == 'Noise'"}], "mark": {"type": "line", "strokeWidth": 8.5},
     "encoding": {
      "x": {"field": "x", "type": "quantitative", "scale": {"domain": [0, 63], "nice": false, "zero": false}, "axis": {"values": [0, 25, 49, 63], "title": "Noise PC Dimensions", "titleColor": "#a8a8a8"}},
      "y": {"field": "y", "type": "quantitative", "scale": {"domain": [0, 100], "nice": false}, "axis": {"values": [0, 25, 50, 75, 90, 100], "labelExpr": "datum.value==25||datum.value==75?'':datum.label", "title": null}},
      "color": {"field": "s", "type": "nominal", "scale": {"domain": ["GT", "LO", "Noise"], "range": ["#2b2b2b", "#0a7d1e", "#c8c8c8"]}, "legend": null}
     }},
    {"data": {"values": [{"t": "X20121219"}]}, "mark": {"type": "text", "align": "right", "baseline": "alphabetic", "dx": 12, "dy": 49, "fontSize": 13, "color": "#262626", "font": "Liberation Sans"},
     "encoding": {"x": {"datum": 63, "type": "quantitative"}, "y": {"datum": 0, "type": "quantitative"}, "text": {"field": "t"}}}
   ]}
]
}
